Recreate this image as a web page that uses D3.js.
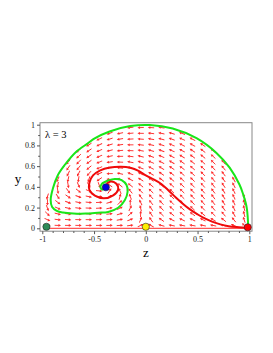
<!DOCTYPE html>
<html><head><meta charset="utf-8">
<script src="https://cdn.jsdelivr.net/npm/d3@7"></script>
<style>body{margin:0;background:#fff}svg{display:block}</style>
</head><body><svg id="c" width="273" height="353"></svg>
<script>
// ---- data ----
const zGrid = [-0.95,-0.85,-0.75,-0.65,-0.55,-0.45,-0.35,-0.25,-0.15,-0.05,0.05,0.15,0.25,0.35,0.45,0.55,0.65,0.75,0.85,0.95];
const yGrid = [0.0278,0.0833,0.1389,0.1944,0.25,0.3056,0.3611,0.4167,0.4722,0.5278,0.5833,0.6389,0.6944,0.75,0.8056,0.8611,0.9167,0.9722];
// arrow directions (degrees, counter-clockwise from +z), per row, centred columns inside the unit circle
const arrowAngles = [
 [-7,-2,-1,-1,0,0,1,3,7,27,149,165,169,170,170,169,168,164,156,129],
 [-24,-8,-4,-2,-1,1,4,10,23,66,126,145,151,153,153,151,148,141,129,108],
 [-44,-14,-8,-4,-2,2,7,17,41,88,123,136,141,143,143,140,136,130,120,105],
 [-68,-24,-13,-8,-3,3,11,28,64,104,124,133,137,138,137,134,130,125,116,105],
 [-91,-38,-21,-12,-6,2,16,45,89,116,128,133,135,135,134,131,128,122,115,106],
 [-107,-58,-34,-21,-12,1,25,75,112,126,132,135,135,135,133,130,127,122,116,108],
 [-81,-54,-38,-25,-6,56,114,129,134,136,137,136,135,133,130,127,122,117],
 [-101,-80,-66,-59,-69,146,142,142,141,141,140,138,137,134,131,128,123,118],
 [-114,-102,-98,-108,-146,173,157,151,147,145,143,141,138,136,133,129,125,120],
 [-117,-118,-131,-155,-179,167,158,153,149,146,143,140,138,134,131,127],
 [-125,-129,-140,-157,-174,173,164,158,153,149,146,143,140,136,133,129],
 [-130,-134,-144,-157,-171,178,169,162,157,153,149,145,142,138,135,131],
 [-137,-146,-156,-168,-179,173,166,160,156,152,148,144,141,137],
 [-139,-146,-156,-166,-175,177,170,164,159,155,151,147,143,139],
 [-147,-155,-164,-172,180,173,167,162,157,153,149,145],
 [-154,-162,-170,-177,176,170,165,160,156,152],
 [-160,-168,-175,179,173,168,163,159],
 [-172,-178,176,171]
];
const greenZ = [0.99,0.975,0.94,0.906,0.81,0.68,0.49,0.26,0.04,-0.15,-0.35,-0.494,-0.56,-0.672,-0.784,-0.849,-0.897,-0.919,-0.905,-0.86,-0.8,-0.7,-0.58,-0.463,-0.363,-0.267,-0.202,-0.176,-0.186,-0.234,-0.299,-0.363,-0.425,-0.437,-0.415];
const greenY = [0.005,0.2,0.33,0.42,0.585,0.73,0.87,0.963,0.997,0.987,0.935,0.868,0.82,0.739,0.611,0.515,0.386,0.273,0.205,0.168,0.152,0.143,0.142,0.15,0.158,0.198,0.273,0.353,0.418,0.466,0.476,0.461,0.428,0.392,0.368];
const redZ = [0.985,0.9,0.8,0.72,0.64,0.57,0.5,0.43,0.36,0.29,0.22,0.15,0.08,0.0,-0.07,-0.15,-0.24,-0.347,-0.44,-0.51,-0.545,-0.545,-0.492,-0.405,-0.315,-0.267,-0.284,-0.337,-0.38];
const redY = [0.004,0.01,0.02,0.038,0.065,0.095,0.135,0.18,0.235,0.297,0.365,0.428,0.47,0.51,0.555,0.585,0.595,0.587,0.56,0.51,0.44,0.37,0.315,0.29,0.318,0.375,0.43,0.452,0.43];
const axisLineZ = [-0.96, 0.985];
const pointZ = [-0.96, 0.0, 0.985, -0.386];
const pointY = [0.015, 0.015, 0.01, 0.396];
const pointColors = ["#2e8b57", "#ffee00", "#ff0000", "#0000dd"];
const xTicks = [-1, -0.5, 0, 0.5, 1];
const xTickLabels = ["-1", "-0.5", "0", "0.5", "1"];
const yTicks = [0, 0.2, 0.4, 0.6, 0.8, 1];
const yTickLabels = ["0", "0.2", "0.4", "0.6", "0.8", "1"];
const xMinor = [-0.9,-0.8,-0.7,-0.6,-0.4,-0.3,-0.2,-0.1,0.1,0.2,0.3,0.4,0.6,0.7,0.8,0.9];
const yMinor = [0.1,0.3,0.5,0.7,0.9];

// ---- drawing ----
const svg = d3.select("#c");
const x = d3.scaleLinear([-1, 1], [42.3, 249.3]);
const y = d3.scaleLinear([0, 1], [228.3, 124.7]);
const F = "'Liberation Serif', 'DejaVu Serif', serif";

// arrows
const arrows = [];
arrowAngles.forEach((row, j) => {
  const off = (zGrid.length - row.length) / 2;
  row.forEach((a, i) => arrows.push({z: zGrid[off + i], y: yGrid[j], a}));
});
const L = 6.4, H = 2.6, W = 1.4;
const ag = svg.append("g").attr("fill", "#ff2a2a").attr("stroke", "#ff2a2a");
ag.selectAll("g.ar").data(arrows).join("g").attr("class", "ar")
  .attr("transform", d => `translate(${x(d.z)},${y(d.y)}) rotate(${-d.a})`)
  .each(function () {
    const g = d3.select(this);
    g.append("line").attr("x1", -L / 2).attr("x2", L / 2 - H + 0.5).attr("y1", 0).attr("y2", 0).attr("stroke-width", 0.9);
    g.append("path").attr("d", `M${L / 2},0L${L / 2 - H},${-W}L${L / 2 - H},${W}Z`).attr("stroke", "none");
  });

// trajectories along the z axis
svg.append("line").attr("x1", x(axisLineZ[0])).attr("x2", x(axisLineZ[1]))
  .attr("y1", y(0)).attr("y2", y(0)).attr("stroke", "#ff2a2a").attr("stroke-width", 1);

const line = d3.line().curve(d3.curveCatmullRom.alpha(0.5));
svg.append("path").attr("d", line(greenZ.map((z, i) => [x(z), y(greenY[i])])))
  .attr("fill", "none").attr("stroke", "#19e619").attr("stroke-width", 2);
svg.append("path").attr("d", line(redZ.map((z, i) => [x(z), y(redY[i])])))
  .attr("fill", "none").attr("stroke", "#ee0a0a").attr("stroke-width", 2);

// frame
svg.append("rect").attr("x", 40).attr("y", 122.7).attr("width", 212).attr("height", 108.5)
  .attr("fill", "none").attr("stroke", "#888").attr("stroke-width", 1);

// axes
const bx = svg.append("g").attr("transform", "translate(0,231.2)")
  .call(d3.axisBottom(x).tickValues(xTicks).tickFormat((d, i) => xTickLabels[i]).tickSize(3).tickPadding(2));
const bxm = svg.append("g").attr("transform", "translate(0,231.2)")
  .call(d3.axisBottom(x).tickValues(xMinor).tickFormat("").tickSize(1.8));
const ly = svg.append("g").attr("transform", "translate(40,0)")
  .call(d3.axisLeft(y).tickValues(yTicks).tickFormat((d, i) => yTickLabels[i]).tickSize(3).tickPadding(2));
const lym = svg.append("g").attr("transform", "translate(40,0)")
  .call(d3.axisLeft(y).tickValues(yMinor).tickFormat("").tickSize(1.8));
[bx, bxm, ly, lym].forEach(g => {
  g.select(".domain").remove();
  g.selectAll("line").attr("stroke", "#555");
  g.selectAll("text").attr("font-family", F).attr("font-size", 8).attr("fill", "#222");
});

// points
svg.selectAll("circle.pt").data(pointZ).join("circle").attr("class", "pt")
  .attr("cx", d => x(d)).attr("cy", (d, i) => y(pointY[i])).attr("r", 3.6)
  .attr("fill", (d, i) => pointColors[i]).attr("stroke", "#222").attr("stroke-width", 0.6);

// labels
svg.append("text").attr("x", 146).attr("y", 257).attr("text-anchor", "middle")
  .attr("font-family", F).attr("font-size", 13).text("z");
svg.append("text").attr("x", 18).attr("y", 183).attr("text-anchor", "middle")
  .attr("font-family", F).attr("font-size", 13).text("y");
svg.append("text").attr("x", 45).attr("y", 138).attr("font-family", F).attr("font-size", 10.5).text("λ = 3");
</script></body></html>
